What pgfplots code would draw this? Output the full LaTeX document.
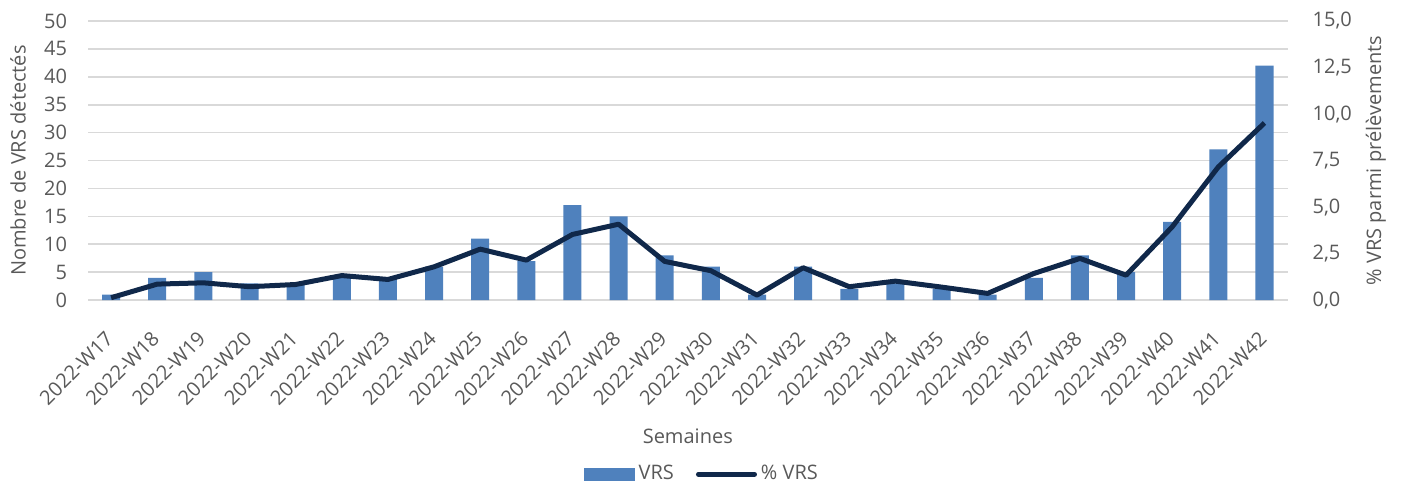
\documentclass[border=0pt]{standalone}
\usepackage{fontspec}
\setmainfont{Open Sans}
\usepackage{pgfplots}
\usepackage{pgfplotstable}
\pgfplotsset{compat=1.18}
\definecolor{barblue}{HTML}{4F81BD}
\definecolor{navy}{HTML}{10284A}
\definecolor{txt}{HTML}{595959}
\definecolor{gridc}{HTML}{D9D9D9}

\pgfplotstableread{
i n p
0 1 0.13
1 4 0.86
2 5 0.93
3 3 0.72
4 3 0.84
5 4 1.32
6 4 1.11
7 6 1.79
8 11 2.74
9 7 2.15
10 17 3.53
11 15 4.08
12 8 2.08
13 6 1.58
14 1 0.27
15 6 1.74
16 2 0.72
17 3 1.02
18 2 0.70
19 1 0.36
20 4 1.43
21 8 2.24
22 5 1.34
23 14 3.94
24 27 7.16
25 42 9.52
}\data

\begin{document}
\begin{tikzpicture}[font=\fontsize{10}{12}\selectfont]
\begin{axis}[name=ax, scale only axis, width=599.5pt, height=139.5pt,
  xmin=-0.5, xmax=25.5, ymin=0, ymax=50, ytick={0,5,...,50},
  xtick={0,...,25},
  xticklabels={2022-W17,2022-W18,2022-W19,2022-W20,2022-W21,2022-W22,2022-W23,2022-W24,2022-W25,2022-W26,2022-W27,2022-W28,2022-W29,2022-W30,2022-W31,2022-W32,2022-W33,2022-W34,2022-W35,2022-W36,2022-W37,2022-W38,2022-W39,2022-W40,2022-W41,2022-W42},
  xticklabel style={rotate=45, anchor=north east, text=txt, inner sep=1pt, xshift=-11.7pt, yshift=-6.8pt},
  yticklabel style={text=txt, anchor=east, xshift=-7pt},
  /pgf/number format/assume math mode=true,
  major tick length=0pt,
  axis line style={draw=none},
  ymajorgrids, grid style={gridc, line width=0.8pt},
  ylabel={Nombre de VRS détectés},
  ylabel style={at={(axis description cs:-0.0584,0.5)}, anchor=center, text=txt},
  xlabel={Semaines},
  xlabel style={at={(axis description cs:0.5,-0.4875)}, anchor=center, text=txt},
  legend style={draw=none, fill=none, legend columns=2, text=txt,
    at={(axis description cs:0.5125,-0.6237)}, anchor=center,
    /tikz/every even column/.append style={column sep=9pt}},
  clip=false,
]
\addplot[ybar, bar width=9pt, fill=barblue, draw=none,
  legend image code/.code={\fill[barblue] (0pt,-3.25pt) rectangle (25.5pt,3.25pt);}]
  table[x=i, y=n] {\data};
\addlegendentry{VRS}
\addlegendimage{legend image code/.code={\draw[navy, line width=2.5pt, line cap=round] (0pt,0pt) -- (28pt,0pt);}}
\addlegendentry{\% VRS}
\end{axis}
\begin{axis}[scale only axis, width=599.5pt, height=139.5pt,
  xmin=-0.5, xmax=25.5, ymin=0, ymax=15, ytick={0,2.5,...,15},
  axis y line*=right, hide x axis, axis line style={draw=none},
  major tick length=0pt,
  /pgf/number format/.cd, fixed, fixed zerofill, precision=1, use comma, assume math mode=true,
  /pgfplots/.cd,
  yticklabel style={text=txt, anchor=west, xshift=9pt},
  ylabel={\% VRS parmi prélèvements},
  ylabel style={at={(axis description cs:1.0737,0.5)}, anchor=center, rotate=0, text=txt},
  clip=false,
]
\addplot[navy, line width=2.5pt, line join=round, mark=none] table[x=i, y=p] {\data};
\end{axis}
\pgfresetboundingbox
\path ([shift={(-44pt,-92pt)}]ax.south west) rectangle ([shift={(58.7pt,10.5pt)}]ax.north east);
\end{tikzpicture}
\end{document}
